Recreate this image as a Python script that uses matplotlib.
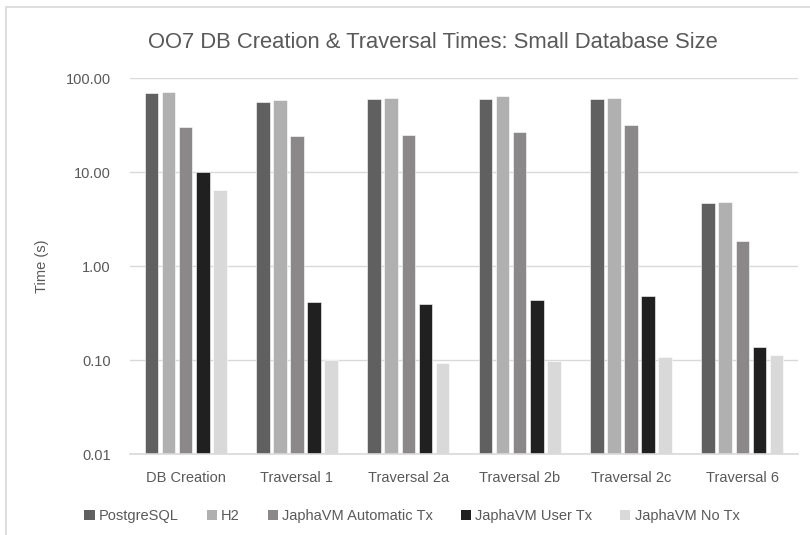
import numpy as np
import matplotlib
matplotlib.use("Agg")
import matplotlib.pyplot as plt
from matplotlib.patches import Rectangle, Patch
from matplotlib.ticker import FixedLocator, NullLocator

categories = ["DB Creation", "Traversal 1", "Traversal 2a", "Traversal 2b",
              "Traversal 2c", "Traversal 6"]
series = ["PostgreSQL", "H2", "JaphaVM Automatic Tx", "JaphaVM User Tx",
          "JaphaVM No Tx"]
postgresql = [70.0, 56.0, 59.3, 59.8, 59.8, 4.68]
h2 = [71.6, 58.0, 61.3, 64.4, 61.3, 4.76]
japha_auto = [30.3, 24.3, 24.8, 26.7, 31.4, 1.85]
japha_user = [9.9, 0.407, 0.388, 0.425, 0.464, 0.128]
japha_notx = [6.5, 0.089, 0.083, 0.087, 0.098, 0.104]
colors = ["#606060", "#b0b0b0", "#8a8888", "#1f201f", "#d9d9d9"]
yticks = [0.01, 0.1, 1, 10, 100]

plt.rcParams['font.family'] = ['Liberation Sans', 'DejaVu Sans']
txt = "#595959"
grid = "#d9d9d9"

fig = plt.figure(figsize=(8.1, 5.35), dpi=100)
ax = fig.add_axes([130 / 810, 1 - 454 / 535, 668 / 810, 376 / 535])

x = np.arange(len(categories))
pitch = 0.1536
width = 0.122
values = [postgresql, h2, japha_auto, japha_user, japha_notx]
for i, (name, vals) in enumerate(zip(series, values)):
    ax.bar(x + (i - 2) * pitch, vals, width, bottom=0.01, color=colors[i],
           edgecolor="white", linewidth=0.4, label=name, zorder=3)

ax.set_yscale("log")
ax.set_ylim(0.01, 100)
ax.set_xlim(-0.5, len(categories) - 0.5)
ax.yaxis.set_major_locator(FixedLocator(yticks))
ax.yaxis.set_minor_locator(NullLocator())
ax.set_yticklabels([f"{v:.2f}" for v in yticks])
ax.set_xticks(x)
ax.set_xticklabels(categories)
ax.tick_params(axis="both", length=0, labelsize=10.5, colors=txt)
ax.tick_params(axis="y", pad=14)
ax.tick_params(axis="x", pad=12)
ax.grid(axis="y", color=grid, linewidth=1, zorder=0)
for s in ["left", "right", "top"]:
    ax.spines[s].set_visible(False)
ax.spines["bottom"].set_color(grid)
ax.spines["bottom"].set_linewidth(1.2)
ax.spines["bottom"].set_zorder(4)

ax.set_ylabel("Time (s)", fontsize=10.5, color=txt, labelpad=12)
fig.text(433 / 810, 1 - 42 / 535, "OO7 DB Creation & Traversal Times: Small Database Size",
         ha="center", va="center", fontsize=15.8, color=txt)

handles = [Patch(facecolor=c, edgecolor="none") for c in colors]
fig.legend(handles, series, loc="center", bbox_to_anchor=(412 / 810, 1 - 516 / 535),
           ncol=5, frameon=False, fontsize=10.5, labelcolor=txt,
           handlelength=0.7, handleheight=0.7, handletextpad=0.3, columnspacing=1.9)

# chart frame
fig.patches.append(Rectangle((6 / 810, -0.05), 1.1, 1 - 7 / 535 + 0.05,
                             transform=fig.transFigure, fill=False,
                             edgecolor=grid, linewidth=1.2))

fig.savefig("out.png", dpi=100)
